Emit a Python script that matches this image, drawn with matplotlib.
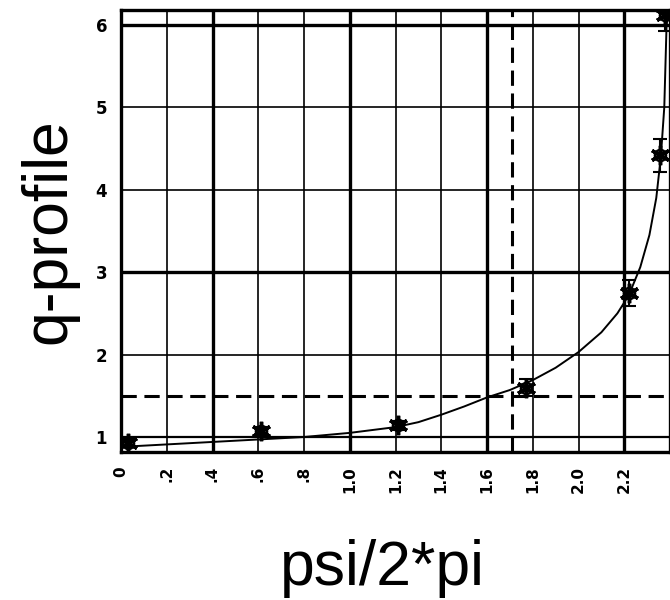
import numpy as np
import matplotlib.pyplot as plt

# measured q values with their error bars
psi_points = [0.03, 0.61, 1.21, 1.77, 2.22, 2.355, 2.378]
q_points = [0.93, 1.07, 1.14, 1.60, 2.75, 4.42, 6.12]
q_err = [0.05, 0.05, 0.06, 0.10, 0.16, 0.20, 0.20]

# fitted q-profile curve
psi_fit = [0.0, 0.2, 0.4, 0.6, 0.8, 1.0, 1.2, 1.3, 1.4, 1.5, 1.6, 1.7, 1.8, 1.9,
           2.0, 2.1, 2.17, 2.22, 2.27, 2.31, 2.34, 2.36, 2.375, 2.385, 2.395]
q_fit = [0.88, 0.91, 0.94, 0.97, 1.0, 1.05, 1.12, 1.18, 1.27, 1.37, 1.48, 1.57, 1.69, 1.84,
         2.03, 2.27, 2.5, 2.72, 3.06, 3.45, 3.9, 4.4, 5.0, 6.0, 6.2]

# q = 1.5 surface
q_surface = 1.5
psi_surface = 1.71

x_ticks = [0.0, 0.2, 0.4, 0.6, 0.8, 1.0, 1.2, 1.4, 1.6, 1.8, 2.0, 2.2]
x_labels = ['0', '.2', '.4', '.6', '.8', '1.0', '1.2', '1.4', '1.6', '1.8', '2.0', '2.2']
y_ticks = [1, 2, 3, 4, 5, 6]

thin_x = [0.2, 0.6, 0.8, 1.2, 1.4, 1.8, 2.0]
thick_x = [0.4, 1.0, 1.6, 2.2]
thin_y = [2, 4, 5]
thick_y = [3, 6]

plt.rcParams['font.family'] = ['Liberation Sans', 'DejaVu Sans']

fig = plt.figure(figsize=(6.7, 6.0), dpi=100)
ax = fig.add_axes([121 / 670, 1 - 452 / 600, 1 - 121 / 670, 442 / 600])

# grid
for x in thin_x:
    ax.axvline(x, color='black', lw=1.2, zorder=1)
for x in thick_x:
    ax.axvline(x, color='black', lw=2.4, zorder=1)
for y in thin_y:
    ax.axhline(y, color='black', lw=1.2, zorder=1)
for y in thick_y:
    ax.axhline(y, color='black', lw=2.4, zorder=1)
ax.axhline(1, color='black', lw=1.6, zorder=1)

# q = 1.5 markers
ax.axhline(q_surface, color='black', lw=2.2, ls=(0, (5, 2.5)), zorder=2)
ax.axvline(psi_surface, color='black', lw=2.2, ls=(0, (5, 2.5)), zorder=2)

ax.plot(psi_fit, q_fit, color='black', lw=1.4, zorder=3)
ax.errorbar(psi_points, q_points, yerr=q_err, fmt='none', ecolor='black',
            elinewidth=1.5, capsize=5, capthick=1.5, zorder=4)
ax.plot(psi_points, q_points, ls='none', marker=(6, 2, 0), markersize=14,
        mew=2.5, color='black', zorder=4)
ax.plot(psi_points, q_points, ls='none', marker='o', markersize=8,
        mfc='none', mew=1.8, color='black', zorder=4)

ax.set_xlim(0, 2.40)
ax.set_ylim(0.818, 6.18)
ax.set_xticks(x_ticks)
ax.set_xticklabels(x_labels, rotation=90, fontsize=11, fontweight='bold',
                   family='DejaVu Sans')
ax.set_yticks(y_ticks)
ax.set_yticklabels([str(v) for v in y_ticks], fontsize=12, fontweight='bold',
                   family='DejaVu Sans')
ax.tick_params(length=0, pad=10)

for s in ax.spines.values():
    s.set_linewidth(2.4)

ax.set_xlabel('psi/2*pi', fontsize=45)
ax.xaxis.set_label_coords(0.477, -0.197)
ax.set_ylabel('q-profile', fontsize=45, labelpad=12.5)

fig.savefig('out.png', dpi=100)
